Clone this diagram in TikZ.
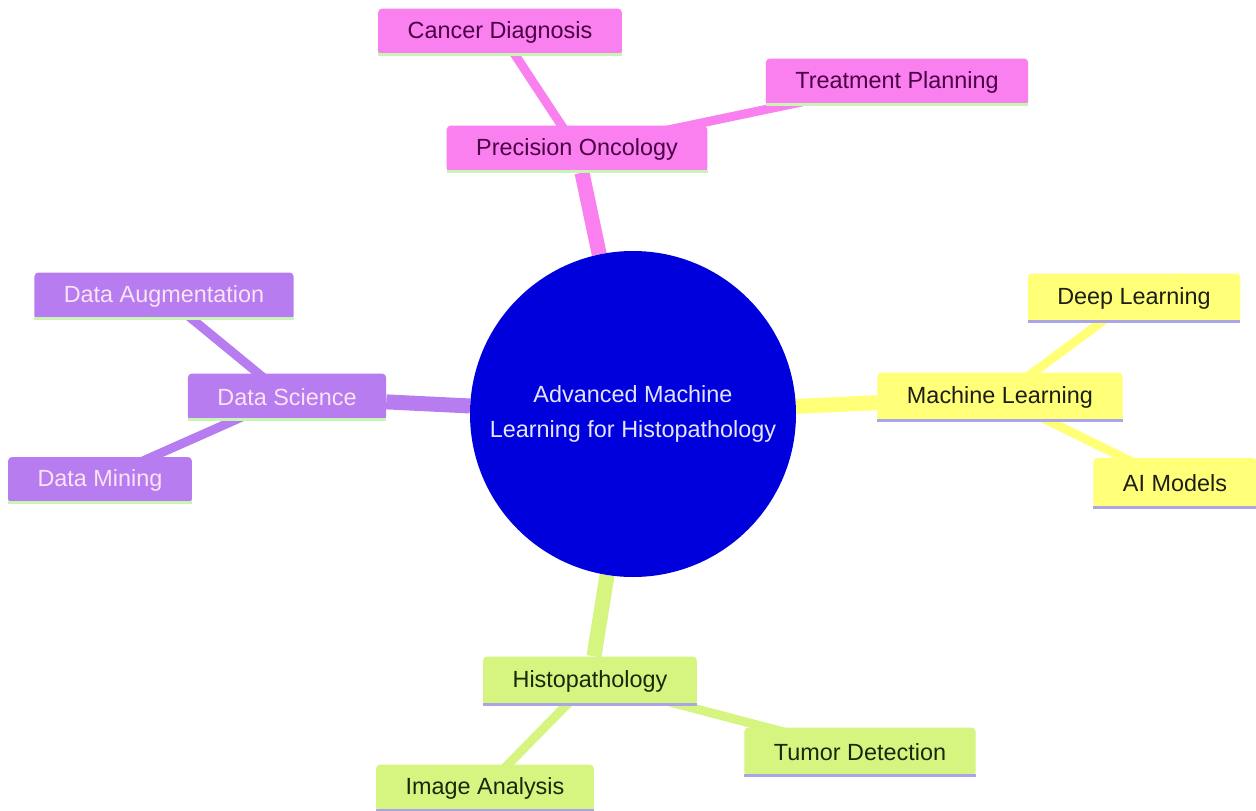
\documentclass[tikz,border=0pt]{standalone}
\usepackage{fontspec}
\setmainfont{Liberation Sans}
\usetikzlibrary{backgrounds}
\definecolor{pinkF}{RGB}{250,128,240}
\definecolor{pinkT}{RGB}{75,0,70}
\definecolor{yelF}{RGB}{255,255,120}
\definecolor{yelT}{RGB}{30,30,20}
\definecolor{purF}{RGB}{182,124,240}
\definecolor{purT}{RGB}{250,228,246}
\definecolor{limF}{RGB}{214,245,128}
\definecolor{limT}{RGB}{25,40,10}
\definecolor{cirF}{RGB}{0,0,220}
\definecolor{cirT}{RGB}{228,228,255}
\definecolor{grLine}{RGB}{200,245,180}
\definecolor{lvLine}{RGB}{170,165,230}
\tikzset{
  box/.style={rectangle, rounded corners=4pt, inner xsep=29.5pt, inner ysep=0pt,
    minimum height=47pt, font=\fontsize{23.4}{28}\selectfont},
  pinkbox/.style={box, fill=pinkF, text=pinkT},
  yelbox/.style={box, fill=yelF, text=yelT, minimum height=49pt},
  purbox/.style={box, fill=purF, text=purT},
  limbox/.style={box, fill=limF, text=limT, minimum height=49pt},
  mainedge/.style={line width=15pt},
  leafedge/.style={line width=9pt},
  bline/.style={line width=3pt}
}
\begin{document}
\begin{tikzpicture}[x=1pt,y=-1pt]
\useasboundingbox (0,0) rectangle (1256,811);
\node[circle, fill=cirF, text=cirT, minimum size=326pt, inner sep=0pt, align=center,
  font=\fontsize{23.4}{35}\selectfont] (c) at (633,414)
  {Advanced Machine\\Learning for Histopathology};
\node[pinkbox] (po) at (577,149) {Precision Oncology};
\node[pinkbox] (cd) at (500,32) {Cancer Diagnosis};
\node[pinkbox] (tp) at (897,82) {Treatment Planning};
\node[yelbox] (ml) at (1000,397) {Machine Learning};
\node[yelbox] (dl) at (1134,298) {Deep Learning};
\node[yelbox, minimum height=50pt] (ai) at (1175,483) {AI Models};
\node[purbox] (ds) at (287,397) {Data Science};
\node[purbox] (da) at (164,296) {Data Augmentation};
\node[purbox, minimum height=46pt] (dm) at (100,480) {Data Mining};
\node[limbox] (hi) at (590,681) {Histopathology};
\node[limbox] (td) at (860,752) {Tumor Detection};
\node[limbox, minimum height=47pt] (ia) at (485,788) {Image Analysis};
\begin{scope}[on background layer]
  \draw[mainedge, pinkF] (c) -- (po);
  \draw[mainedge, yelF] (c) -- (ml);
  \draw[mainedge, purF] (c) -- (ds);
  \draw[mainedge, limF] (c) -- (hi);
  \draw[leafedge, pinkF] (po.center) -- (cd.center);
  \draw[leafedge, pinkF] (po.center) -- (tp.center);
  \draw[leafedge, yelF] (ml.center) -- (dl.center);
  \draw[leafedge, yelF] (ml.center) -- (ai.center);
  \draw[leafedge, purF] (ds.center) -- (da.center);
  \draw[leafedge, purF] (ds.center) -- (dm.center);
  \draw[leafedge, limF] (hi.center) -- (td.center);
  \draw[leafedge, limF] (hi.center) -- (ia.center);
\end{scope}
\foreach \n/\col in {po/grLine, cd/grLine, tp/grLine, ds/grLine, da/grLine, dm/grLine,
                     ml/lvLine, dl/lvLine, ai/lvLine, hi/lvLine, td/lvLine, ia/lvLine}
  \draw[bline, \col] ([yshift=1pt]\n.south west) -- ([yshift=1pt]\n.south east);
\end{tikzpicture}
\end{document}
